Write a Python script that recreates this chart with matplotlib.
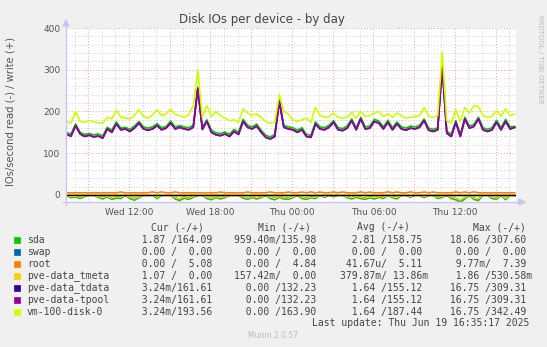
import matplotlib
matplotlib.use("Agg")
import matplotlib.pyplot as plt
import numpy as np
from matplotlib.patches import Rectangle, Polygon
from matplotlib.lines import Line2D

W, H = 547, 347

# samples every 20 minutes, hours counted from Wed 00:00
hours = 7.4 + np.arange(100) / 3.0

tpool_write = [
    145, 141, 166, 146, 140, 143, 139, 141, 136, 158,
    150, 170, 156, 158, 152, 160, 172, 158, 155, 158,
    166, 156, 160, 172, 158, 162, 158, 156, 162, 255,
    157, 176, 150, 144, 142, 146, 140, 152, 145, 176,
    162, 158, 165, 150, 138, 134, 140, 224, 162, 158,
    156, 150, 156, 140, 138, 170, 158, 156, 162, 174,
    156, 154, 160, 178, 156, 182, 158, 160, 176, 172,
    158, 174, 156, 170, 158, 155, 160, 158, 162, 178,
    155, 152, 156, 309, 148, 140, 174, 140, 182, 160,
    164, 182, 156, 152, 156, 174, 156, 176, 158, 161.6,
]
sda_write = [
    149, 146, 170, 150, 145, 147, 144, 146, 141, 162,
    155, 175, 160, 162, 157, 165, 176, 163, 160, 163,
    171, 161, 164, 177, 163, 166, 163, 161, 167, 258,
    162, 180, 155, 149, 147, 151, 145, 157, 150, 181,
    167, 163, 170, 155, 143, 139, 145, 228, 167, 163,
    161, 155, 161, 145, 143, 175, 163, 161, 167, 178,
    161, 159, 165, 182, 161, 186, 163, 165, 181, 177,
    163, 179, 161, 175, 163, 160, 165, 163, 167, 182,
    160, 157, 161, 307, 153, 145, 178, 145, 186, 165,
    169, 186, 161, 157, 161, 179, 161, 181, 163, 164.1,
]
vm_write = [
    176, 172, 200, 176, 174, 178, 175, 173, 172, 186,
    182, 203, 186, 184, 182, 190, 204, 188, 184, 192,
    204, 190, 194, 206, 192, 190, 186, 192, 214, 300,
    186, 214, 188, 200, 190, 184, 178, 180, 174, 206,
    196, 190, 194, 186, 176, 172, 174, 240, 200, 194,
    180, 176, 180, 184, 174, 210, 190, 186, 188, 196,
    186, 184, 186, 198, 184, 200, 188, 190, 196, 200,
    188, 194, 186, 196, 190, 184, 186, 188, 190, 210,
    188, 186, 190, 342, 178, 172, 204, 176, 210, 196,
    214, 212, 190, 186, 188, 202, 188, 206, 190, 193.6,
]
root_write = [
    5.0, 5.0, 5.1, 5.0, 5.0, 5.0, 5.1, 5.0, 5.0, 5.0,
    5.1, 5.0, 6.8, 5.0, 5.0, 5.1, 5.0, 5.0, 5.0, 7.2,
    5.0, 7.0, 5.1, 5.0, 6.9, 5.0, 5.0, 5.0, 5.1, 5.0,
    5.0, 5.0, 5.1, 5.0, 6.8, 5.0, 5.0, 5.0, 5.1, 5.0,
    6.9, 5.0, 5.0, 5.1, 5.0, 7.1, 5.0, 5.0, 5.0, 6.8,
    5.0, 5.1, 6.9, 5.0, 7.2, 5.0, 6.8, 5.0, 5.1, 6.9,
    5.0, 7.0, 5.0, 5.0, 5.1, 7.0, 5.0, 6.8, 5.0, 5.1,
    5.0, 7.3, 5.0, 6.9, 5.0, 5.0, 7.1, 5.0, 5.1, 7.0,
    5.0, 6.8, 5.0, 5.1, 5.0, 5.0, 7.0, 5.0, 6.9, 5.0,
    7.2, 5.0, 5.1, 5.0, 5.0, 5.1, 5.0, 5.0, 5.1, 5.08,
]
# read rates (drawn below zero); tdata, tpool and vm-100 read the same
thin_read = [
    0, 5, 3, 6, 2, 0, 0, 4, 7, 3,
    8, 5, 6, 0, 6, 9, 5, 0, 0, 0,
    6, 0, 0, 0, 7, 10, 5, 8, 4, 0,
    0, 6, 9, 4, 7, 5, 0, 0, 0, 5,
    8, 4, 7, 5, 0, 6, 9, 4, 7, 8,
    5, 0, 6, 8, 5, 6, 0, 4, 0, 3,
    0, 0, 5, 7, 4, 6, 8, 5, 7, 4,
    6, 0, 5, 7, 0, 0, 4, 0, 0, 5,
    0, 0, 6, 4, 0, 6, 9, 12, 7, 0,
    8, 10, 0, 0, 6, 8, 0, 9, 0, 0.003,
]
sda_read = [
    1, 7, 5, 9, 4, 1, 1, 6, 10, 5,
    11, 8, 9, 1, 9, 13, 7, 1, 1, 1,
    9, 1, 1, 1, 10, 14, 8, 11, 6, 1,
    1, 9, 12, 6, 10, 7, 1, 1, 1, 8,
    11, 6, 10, 7, 1, 9, 12, 6, 10, 11,
    7, 1, 9, 11, 7, 9, 1, 6, 1, 5,
    1, 1, 7, 10, 6, 9, 11, 7, 10, 6,
    9, 1, 7, 10, 1, 1, 6, 1, 1, 7,
    1, 1, 9, 6, 1, 9, 12, 18, 10, 1,
    11, 14, 1, 1, 9, 11, 1, 12, 1, 1.87,
]

names = ["sda", "swap", "root", "pve-data_tmeta", "pve-data_tdata",
         "pve-data-tpool", "vm-100-disk-0"]
colors = ["#00CC00", "#0066B3", "#FF8000", "#FFCC00", "#330099",
          "#990099", "#CCFF00"]
cur_txt = ["  1.87 /164.09 ", "  0.00 /  0.00 ", "  0.00 /  5.08 ",
           "  1.07 /  0.00 ", "  3.24m/161.61 ", "  3.24m/161.61 ",
           "  3.24m/193.56 "]
min_txt = ["959.40m/135.98 ", "  0.00 /  0.00 ", "  0.00 /  4.84 ",
           "157.42m/  0.00 ", "  0.00 /132.23 ", "  0.00 /132.23 ",
           "  0.00 /163.90 "]
avg_txt = ["  2.81 /158.75 ", "  0.00 /  0.00 ", " 41.67u/  5.11 ",
           "379.87m/ 13.86m", "  1.64 /155.12 ", "  1.64 /155.12 ",
           "  1.64 /187.44 "]
max_txt = [" 18.06 /307.60 ", "  0.00 /  0.00 ", "  9.77m/  7.39 ",
           "  1.86 /530.58m", " 16.75 /309.31 ", " 16.75 /309.31 ",
           " 16.75 /342.49 "]

zeros = [0.0] * len(hours)
tmeta_read = [0.4] * len(hours)
series = [
    (sda_read, sda_write),
    (zeros, zeros),
    (zeros, root_write),
    (tmeta_read, zeros),
    (thin_read, tpool_write),
    (thin_read, tpool_write),
    (thin_read, vm_write),
]


def fx(x):
    return x / W


def fy(y):
    return 1 - y / H


fig = plt.figure(figsize=(W / 100, H / 100), dpi=100, facecolor="#F0F0F0")
ax = fig.add_axes([fx(66), fy(202), fx(516) - fx(66), fy(28) - fy(202)])
ax.set_facecolor("white")
ax.set_xlim(7.36, 40.5)
ax.set_ylim(-17, 400)

# grid
for h in np.arange(8, 41, 1):
    if h % 3 == 0:
        continue
    ax.axvline(h, color="#D0D0D0", lw=0.7, ls=(0, (1, 2)), zorder=0)
for h in np.arange(9, 41, 3):
    ax.axvline(h, color="#EBA0A0", lw=0.7, ls=(0, (1, 2)), zorder=0)
for v in np.arange(20, 400, 20):
    if v % 100 == 0:
        continue
    ax.axhline(v, color="#D0D0D0", lw=0.7, ls=(0, (1, 2)), zorder=0)
for v in [100, 200, 300, 400]:
    ax.axhline(v, color="#EBA0A0", lw=0.7, ls=(0, (1, 2)), zorder=0)

for (rd, wr), c in zip(series, colors):
    ax.plot(hours, -np.array(rd), color=c, lw=1.0, zorder=2)
for (rd, wr), c in zip(series, colors):
    ax.plot(hours, wr, color=c, lw=1.2, zorder=3)
ax.axhline(0, color="black", lw=0.9, zorder=4)

for s in ax.spines.values():
    s.set_visible(False)
ax.set_yticks([0, 100, 200, 300, 400])
ax.set_xticks([12, 18, 24, 30, 36])
ax.set_xticklabels(["Wed 12:00", "Wed 18:00", "Thu 00:00", "Thu 06:00",
                    "Thu 12:00"])
ax.tick_params(length=0, labelsize=6.5, colors="#555555", pad=4)

# axis lines with arrows
axc = "#C4C8F0"
fig.add_artist(Line2D([fx(66), fx(66)], [fy(205), fy(26)], color=axc, lw=1))
fig.add_artist(Line2D([fx(63), fx(519)], [fy(202), fy(202)], color=axc, lw=1))
fig.add_artist(Polygon([[fx(63), fy(26)], [fx(69), fy(26)], [fx(66), fy(20)]],
                       closed=True, color=axc))
fig.add_artist(Polygon([[fx(519), fy(199)], [fx(519), fy(205)],
                        [fx(525), fy(202)]], closed=True, color=axc))

fig.text(fx(262), fy(20), "Disk IOs per device - by day", ha="center",
         va="center", fontsize=8.5, color="#444444")
fig.text(fx(11), fy(111), "IOs/second read (-) / write (+)", rotation=90,
         ha="center", va="center", fontsize=7.2, color="#555555")
fig.text(fx(540), fy(15), "RRDTOOL / TOBI OETIKER", rotation=270,
         ha="center", va="top", fontsize=5, color="#BBBBBB")

mono = dict(family="DejaVu Sans Mono", fontsize=7, color="#444444",
            va="center", ha="left")
fig.text(fx(151), fy(227), "Cur (-/+)", **mono)
fig.text(fx(258.3), fy(227), "Min (-/+)", **mono)
fig.text(fx(356.7), fy(227), "Avg (-/+)", **mono)
fig.text(fx(472.7), fy(227), "Max (-/+)", **mono)

row_y = 240
for i, name in enumerate(names):
    y = row_y + i * 11.95
    fig.add_artist(Rectangle((fx(14), fy(y + 3)), fx(6), 6 / H,
                             facecolor=colors[i], edgecolor=colors[i], lw=0.5))
    fig.text(fx(27), fy(y), name, **mono)
    fig.text(fx(130.2), fy(y), cur_txt[i], **mono)
    fig.text(fx(233.5), fy(y), min_txt[i], **mono)
    fig.text(fx(339.5), fy(y), avg_txt[i], **mono)
    fig.text(fx(444), fy(y), max_txt[i], **mono)

fig.text(fx(311.7), fy(323), "Last update: Thu Jun 19 16:35:17 2025", **mono)
fig.text(fx(273), fy(336), "Munin 2.0.57", ha="center", va="center",
         fontsize=5.5, color="#BBBBBB")

fig.savefig("out.png", dpi=100, facecolor=fig.get_facecolor())
